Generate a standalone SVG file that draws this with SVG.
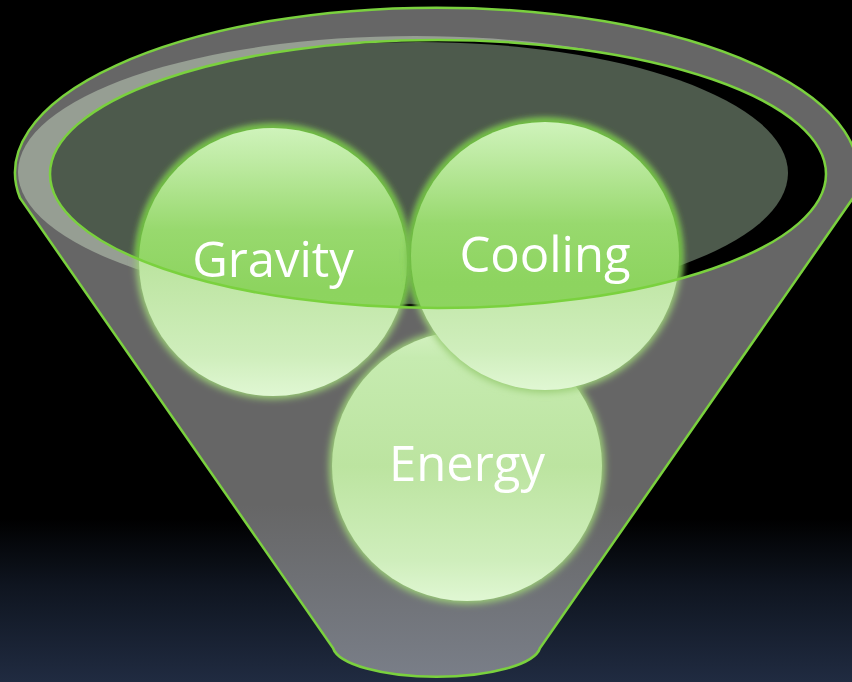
<svg xmlns="http://www.w3.org/2000/svg" width="852" height="682" viewBox="0 0 852 682">
  <defs>
    <style>
      .lbl { font-family: "Open Sans", "Noto Sans", "Liberation Sans", sans-serif; font-size: 49px; font-weight: 400; fill: #ffffff; text-anchor: middle; }
      .rimline { fill: none; stroke: #7ad13e; stroke-width: 2.5; }
      .halo { fill: #9ccf78; filter: url(#blur); }
      .halo2 { fill: #66bd36; filter: url(#blur); }
    </style>
    <linearGradient id="bg" x1="0" y1="0" x2="0" y2="682" gradientUnits="userSpaceOnUse">
      <stop offset="0" stop-color="#000000"/>
      <stop offset="0.76" stop-color="#000000"/>
      <stop offset="0.86" stop-color="#0f1520"/>
      <stop offset="1" stop-color="#202b41"/>
    </linearGradient>
    <linearGradient id="body" x1="0" y1="0" x2="0" y2="682" gradientUnits="userSpaceOnUse">
      <stop offset="0" stop-color="#666666"/>
      <stop offset="0.74" stop-color="#666666"/>
      <stop offset="1" stop-color="#7a7f89"/>
    </linearGradient>
    <linearGradient id="light" x1="0" y1="0" x2="0" y2="1">
      <stop offset="0" stop-color="#d3f1c0"/>
      <stop offset="0.1" stop-color="#c6ebb0"/>
      <stop offset="0.5" stop-color="#bce4a0"/>
      <stop offset="0.85" stop-color="#cfeebc"/>
      <stop offset="1" stop-color="#e0f7d3"/>
    </linearGradient>
    <linearGradient id="sat" x1="0" y1="0" x2="0" y2="1">
      <stop offset="0" stop-color="#cff3bb"/>
      <stop offset="0.12" stop-color="#bfeba4"/>
      <stop offset="0.38" stop-color="#98d96e"/>
      <stop offset="0.6" stop-color="#8dd45f"/>
      <stop offset="1" stop-color="#8fd563"/>
    </linearGradient>
    <filter id="blur" x="-20%" y="-20%" width="140%" height="140%">
      <feGaussianBlur stdDeviation="3.5"/>
    </filter>
    <clipPath id="innerClip">
      <ellipse cx="438" cy="174" rx="388" ry="134"/>
    </clipPath>
  </defs>

  <rect x="0" y="0" width="852" height="682" fill="url(#bg)"/>

  <g id="funnel">
    <path d="M 20,198 A 421.5 165 0 1 1 853,198 L 540,648 A 104 32 0 0 1 333,648 Z" fill="url(#body)" stroke="#7ad13e" stroke-width="2.5"/>
    <ellipse cx="415" cy="172" rx="397" ry="136" fill="#969e93"/>
    <ellipse cx="438" cy="174" rx="388" ry="134" fill="#000000"/>
    <ellipse cx="418" cy="173" rx="370" ry="131" fill="#4d5a4c" clip-path="url(#innerClip)"/>
  </g>

  <g id="connectors"/>

  <g id="energy">
    <circle class="halo" cx="467" cy="466" r="138"/>
    <circle cx="467" cy="466" r="135" fill="url(#light)"/>
    <text class="lbl" x="467" y="481">Energy</text>
  </g>

  <g id="gravity">
    <circle class="halo" cx="273" cy="262" r="137"/>
    <circle cx="273" cy="262" r="134" fill="url(#light)"/>
    <g clip-path="url(#innerClip)">
      <circle class="halo2" cx="273" cy="262" r="137"/>
      <circle cx="273" cy="262" r="134" fill="url(#sat)"/>
    </g>
  </g>

  <g id="cooling">
    <circle class="halo" cx="545" cy="256" r="137"/>
    <circle cx="545" cy="256" r="134" fill="url(#light)"/>
    <g clip-path="url(#innerClip)">
      <circle class="halo2" cx="545" cy="256" r="137"/>
      <circle cx="545" cy="256" r="134" fill="url(#sat)"/>
    </g>
  </g>

  <ellipse class="rimline" cx="438" cy="174" rx="388" ry="134"/>

  <text class="lbl" x="273" y="277">Gravity</text>
  <text class="lbl" x="545" y="272">Cooling</text>
</svg>
